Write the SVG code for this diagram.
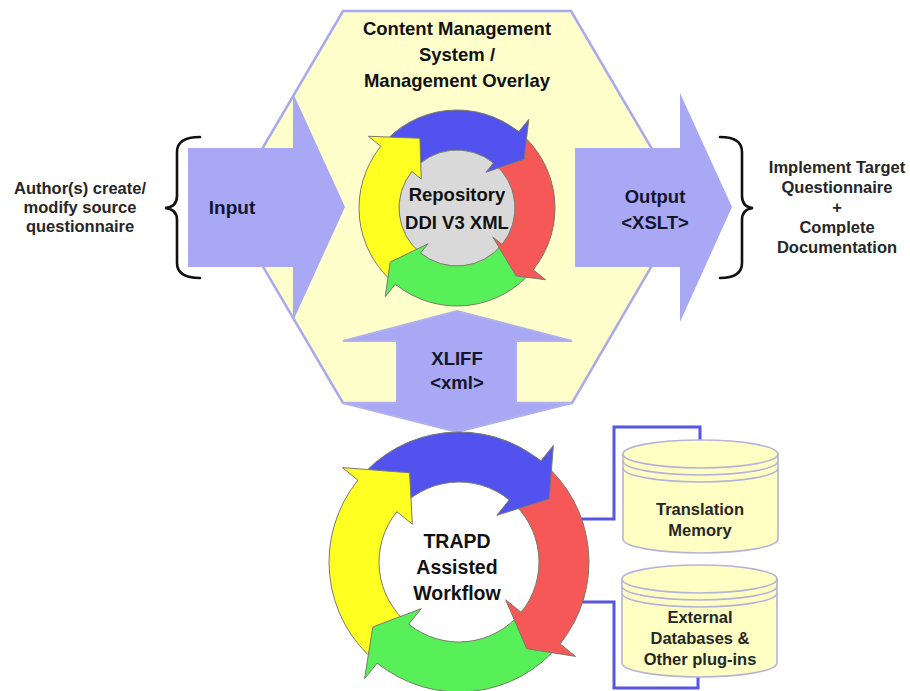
<svg xmlns="http://www.w3.org/2000/svg" width="910" height="691" viewBox="0 0 910 691">
  <style>
    .bg { fill: #ffffff; }
    .hex { fill: #ffffcc; stroke: #a9a9ee; stroke-width: 2.5; stroke-linejoin: miter; }
    .flow { fill: #a8a8f5; stroke: none; }
    .flow-edge { fill: #a8a8f5; stroke: #b0b0f0; stroke-width: 2; }
    .brace { fill: none; stroke: #111111; stroke-width: 2.6; stroke-linecap: round; }
    .link { fill: none; stroke: #5656e2; stroke-width: 3; }
    .ring { stroke: #7a7a6a; stroke-width: 1; stroke-linejoin: round; }
    .cap { stroke: none; }
    .edge { fill: none; stroke: #7a7a6a; stroke-width: 1; stroke-linejoin: round; }
    .yel { fill: #ffff22; }
    .blu { fill: #5252ee; }
    .red { fill: #f65858; }
    .grn { fill: #58f058; }
    .db { fill: #ffffc4; stroke: #b4b4d8; stroke-width: 1.6; }
    .dbline { fill: none; stroke: #b4b4d8; stroke-width: 1.6; }
    .hub { font-family: "Liberation Sans", Arial, sans-serif; font-weight: bold; fill: #111111; text-anchor: middle; }
    .lbl { font-family: "Liberation Sans", Arial, sans-serif; font-weight: bold; fill: #14142e; text-anchor: middle; }
    .side { font-family: "Liberation Sans", Arial, sans-serif; font-weight: bold; fill: #262626; text-anchor: middle; font-size: 16.5px; }
  </style>

  <rect class="bg" x="0" y="0" width="910" height="691"/>

  <!-- management overlay hexagon -->
  <g id="overlay">
    <polygon class="hex" points="343,11 571,11 686,207 572,403 343,403 228,207"/>
    <text class="hub" font-size="18.5" x="457" y="35">Content Management</text>
    <text class="hub" font-size="18.5" x="457" y="61">System /</text>
    <text class="hub" font-size="18.5" x="457" y="87">Management Overlay</text>
  </g>

  <!-- connectors from the workflow to the data stores -->
  <g id="connectors">
    <path class="link" d="M 575 519 H 614 V 427 H 700 V 441"/>
    <path class="link" d="M 575 602 H 614 V 688 H 698 V 677"/>
  </g>

  <!-- input arrow -->
  <g id="input">
    <polygon class="flow" points="188,148 293,148 293,93 345,207 293,321 293,267 188,267"/>
    <text class="lbl" font-size="19" x="232" y="214">Input</text>
  </g>

  <!-- output arrow -->
  <g id="output">
    <polygon class="flow" points="575,148 680,148 680,93 732,207 680,322 680,267 575,267"/>
    <text class="lbl" font-size="18.5" x="655" y="203">Output</text>
    <text class="lbl" font-size="18.5" x="655" y="229">&lt;XSLT&gt;</text>
  </g>

  <!-- xliff exchange arrow -->
  <g id="xliff">
    <polygon class="flow-edge" points="457,311 572,341 516,341 516,403 572,403 457,432 343,403 397,403 397,341 343,341"/>
    <text class="lbl" font-size="18.5" x="457" y="365">XLIFF</text>
    <text class="lbl" font-size="18.5" x="457" y="389">&lt;xml&gt;</text>
  </g>

  <!-- repository cycle -->
  <g id="repository">
    <circle cx="457" cy="208" r="60" fill="#d9d9d9"/>
    <path class="ring yel" d="M 395.33 284.16 A 98 98 0 0 1 380.84 146.33 L 411.93 171.50 A 58 58 0 0 0 420.50 253.07 Z"/>
    <path class="ring blu" d="M 380.84 146.33 A 98 98 0 0 1 518.67 131.84 L 493.50 162.93 A 58 58 0 0 0 411.93 171.50 Z"/>
    <path class="ring red" d="M 518.67 131.84 A 98 98 0 0 1 533.16 269.67 L 502.07 244.50 A 58 58 0 0 0 493.50 162.93 Z"/>
    <path class="ring grn" d="M 533.16 269.67 A 98 98 0 0 1 395.33 284.16 L 420.50 253.07 A 58 58 0 0 0 502.07 244.50 Z"/>
    <!-- arrowheads laid over the following segment -->
    <path class="cap yel" d="M 377.72 150.40 A 98 98 0 0 1 380.84 146.33 L 368.41 136.26 L 419.91 138.25 L 421.25 179.05 L 411.93 171.50 A 58 58 0 0 0 410.08 173.91 Z"/>
    <path class="edge" d="M 377.72 150.40 A 98 98 0 0 1 380.84 146.33 L 368.41 136.26 L 419.91 138.25 L 421.25 179.05 L 411.93 171.50 A 58 58 0 0 0 410.08 173.91"/>
    <path class="cap blu" d="M 514.60 128.72 A 98 98 0 0 1 518.67 131.84 L 528.74 119.41 L 524.15 159.21 L 485.95 172.25 L 493.50 162.93 A 58 58 0 0 0 491.09 161.08 Z"/>
    <path class="edge" d="M 514.60 128.72 A 98 98 0 0 1 518.67 131.84 L 528.74 119.41 L 524.15 159.21 L 485.95 172.25 L 493.50 162.93 A 58 58 0 0 0 491.09 161.08"/>
    <path class="cap red" d="M 536.28 265.60 A 98 98 0 0 1 533.16 269.67 L 545.59 279.74 L 516.05 275.92 L 492.75 236.95 L 502.07 244.50 A 58 58 0 0 0 503.92 242.09 Z"/>
    <path class="edge" d="M 536.28 265.60 A 98 98 0 0 1 533.16 269.67 L 545.59 279.74 L 516.05 275.92 L 492.75 236.95 L 502.07 244.50 A 58 58 0 0 0 503.92 242.09"/>
    <path class="cap grn" d="M 399.40 287.28 A 98 98 0 0 1 395.33 284.16 L 385.26 296.59 L 390.17 262.12 L 428.05 243.75 L 420.50 253.07 A 58 58 0 0 0 422.91 254.92 Z"/>
    <path class="edge" d="M 399.40 287.28 A 98 98 0 0 1 395.33 284.16 L 385.26 296.59 L 390.17 262.12 L 428.05 243.75 L 420.50 253.07 A 58 58 0 0 0 422.91 254.92"/>
    <text class="hub" font-size="18.5" x="457" y="201">Repository</text>
    <text class="hub" font-size="18.5" x="457" y="229">DDI V3 XML</text>
  </g>

  <!-- TRAPD workflow cycle -->
  <g id="workflow">
    <path class="ring yel" d="M 377.19 663.02 A 130 130 0 0 1 357.98 480.19 L 396.83 511.66 A 80 80 0 0 0 408.66 624.17 Z"/>
    <path class="ring blu" d="M 357.98 480.19 A 130 130 0 0 1 540.81 460.98 L 509.34 499.83 A 80 80 0 0 0 396.83 511.66 Z"/>
    <path class="ring red" d="M 540.81 460.98 A 130 130 0 0 1 560.02 643.81 L 521.17 612.34 A 80 80 0 0 0 509.34 499.83 Z"/>
    <path class="ring grn" d="M 560.02 643.81 A 130 130 0 0 1 377.19 663.02 L 408.66 624.17 A 80 80 0 0 0 521.17 612.34 Z"/>
    <path class="cap yel" d="M 353.83 485.59 A 130 130 0 0 1 357.98 480.19 L 342.43 467.60 L 409.55 472.79 L 412.37 524.24 L 396.83 511.66 A 80 80 0 0 0 394.28 514.98 Z"/>
    <path class="edge" d="M 353.83 485.59 A 130 130 0 0 1 357.98 480.19 L 342.43 467.60 L 409.55 472.79 L 412.37 524.24 L 396.83 511.66 A 80 80 0 0 0 394.28 514.98"/>
    <path class="cap blu" d="M 535.41 456.83 A 130 130 0 0 1 540.81 460.98 L 553.40 445.43 L 549.11 498.91 L 496.76 515.37 L 509.34 499.83 A 80 80 0 0 0 506.02 497.28 Z"/>
    <path class="edge" d="M 535.41 456.83 A 130 130 0 0 1 540.81 460.98 L 553.40 445.43 L 549.11 498.91 L 496.76 515.37 L 509.34 499.83 A 80 80 0 0 0 506.02 497.28"/>
    <path class="cap red" d="M 564.17 638.41 A 130 130 0 0 1 560.02 643.81 L 575.57 656.40 L 526.73 648.68 L 505.63 599.76 L 521.17 612.34 A 80 80 0 0 0 523.72 609.02 Z"/>
    <path class="edge" d="M 564.17 638.41 A 130 130 0 0 1 560.02 643.81 L 575.57 656.40 L 526.73 648.68 L 505.63 599.76 L 521.17 612.34 A 80 80 0 0 0 523.72 609.02"/>
    <path class="cap grn" d="M 382.59 667.17 A 130 130 0 0 1 377.19 663.02 L 364.60 678.57 L 372.75 627.00 L 421.24 608.63 L 408.66 624.17 A 80 80 0 0 0 411.98 626.72 Z"/>
    <path class="edge" d="M 382.59 667.17 A 130 130 0 0 1 377.19 663.02 L 364.60 678.57 L 372.75 627.00 L 421.24 608.63 L 408.66 624.17 A 80 80 0 0 0 411.98 626.72"/>
    <text class="hub" font-size="19.5" x="457" y="548">TRAPD</text>
    <text class="hub" font-size="19.5" x="457" y="574">Assisted</text>
    <text class="hub" font-size="19.5" x="457" y="600">Workflow</text>
  </g>

  <!-- translation memory store -->
  <g id="memory">
    <path class="db" d="M 623 454 L 623 539 A 77.5 14 0 0 0 778 539 L 778 454 Z"/>
    <ellipse class="db" cx="700.5" cy="454" rx="77.5" ry="14"/>
    <path class="dbline" d="M 623 461 A 77.5 14 0 0 0 778 461 M 623 468 A 77.5 14 0 0 0 778 468"/>
    <text class="side" x="700" y="515">Translation</text>
    <text class="side" x="700" y="536">Memory</text>
  </g>

  <!-- external databases store -->
  <g id="external">
    <path class="db" d="M 622 579 L 622 663 A 77.5 14 0 0 0 777 663 L 777 579 Z"/>
    <ellipse class="db" cx="699.5" cy="579" rx="77.5" ry="14"/>
    <path class="dbline" d="M 622 586 A 77.5 14 0 0 0 777 586 M 622 593 A 77.5 14 0 0 0 777 593"/>
    <text class="side" x="700" y="623">External</text>
    <text class="side" x="700" y="644">Databases &amp;</text>
    <text class="side" x="700" y="665">Other plug-ins</text>
  </g>

  <!-- source side -->
  <g id="source">
    <path class="brace" d="M 200 137 Q 177 137 177 152 L 177 196 Q 177 207 165 208 Q 177 209 177 220 L 177 263 Q 177 278 200 278"/>
    <text class="side" x="80" y="194">Author(s) create/</text>
    <text class="side" x="80" y="213">modify source</text>
    <text class="side" x="80" y="232">questionnaire</text>
  </g>

  <!-- target side -->
  <g id="target">
    <path class="brace" d="M 720 137 Q 742 137 742 152 L 742 196 Q 742 207 753 208 Q 742 209 742 220 L 742 263 Q 742 278 720 278"/>
    <text class="side" x="837" y="173">Implement Target</text>
    <text class="side" x="837" y="193">Questionnaire</text>
    <text class="side" x="837" y="213">+</text>
    <text class="side" x="837" y="233">Complete</text>
    <text class="side" x="837" y="253">Documentation</text>
  </g>
</svg>
